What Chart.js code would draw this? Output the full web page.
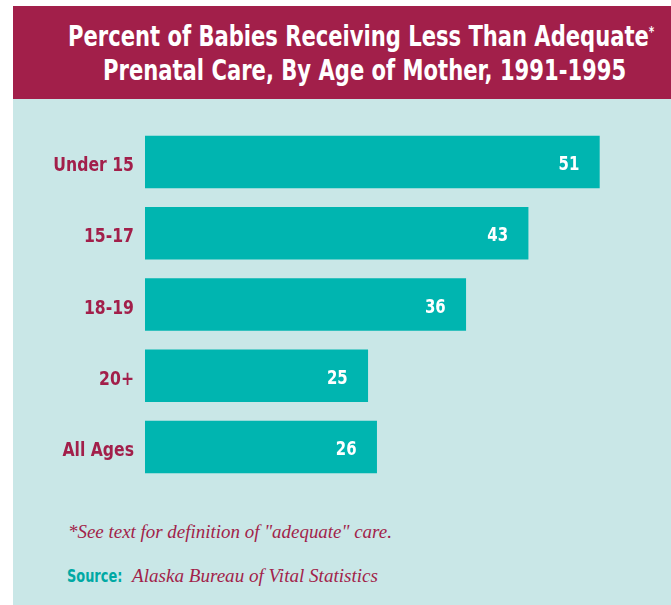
<!DOCTYPE html>
<html>
<head>
<meta charset="utf-8">
<script src="https://cdn.jsdelivr.net/npm/chart.js@4/dist/chart.umd.min.js"></script>
<style>
  html, body { margin: 0; padding: 0; background: #fff; }
  #page { position: relative; width: 671px; height: 605px; overflow: hidden; }
  #header {
    position: absolute; left: 13px; top: 6px; width: 658px; height: 93px;
    background: #a21f4a;
  }
  #panel {
    position: absolute; left: 13px; top: 99px; width: 658px; height: 506px;
    background: #c9e7e7;
  }
  .cond { font-family: "Liberation Sans Narrow", "DejaVu Sans Condensed", sans-serif; font-weight: bold; }
  .fit { position: absolute; white-space: nowrap; line-height: 1; transform-origin: 0 0; }
  .title { color: #fff; font-size: 28px; }
  .title sup { font-size: 14px; vertical-align: 10px; }
  .serif { color: #a21f4a; font-family: "Liberation Serif", "DejaVu Serif", serif; font-style: italic; font-size: 18px; }
  .src { color: #00a9a4; font-size: 18px; }
  #chartWrap { position: absolute; left: 13px; top: 99px; width: 658px; height: 400px; }
</style>
</head>
<body>
<div id="page">
  <div id="header"></div>
  <div id="panel"></div>
  <div id="chartWrap"><canvas id="chart" width="658" height="400"></canvas></div>

  <div class="fit title cond" data-w="586" style="left:68px; top:23px;">Percent of Babies Receiving Less Than Adequate<sup>*</sup></div>
  <div class="fit title cond" data-w="523" style="left:103px; top:57px;">Prenatal Care, By Age of Mother, 1991-1995</div>

  <div class="fit serif" data-w="324" style="left:68px; top:523px;">*See text for definition of "adequate" care.</div>
  <div class="fit src cond" data-w="55" style="left:67px; top:567px;">Source:</div>
  <div class="fit serif" data-w="246" style="left:132px; top:567px;">Alaska Bureau of Vital Statistics</div>
</div>
<script>
"use strict";
const ageGroups = ["Under 15", "15-17", "18-19", "20+", "All Ages"];
const percentLessThanAdequate = [51, 43, 36, 25, 26];

const MAROON = "#a21f4a";
const TEAL = "#00b5b0";
const CONDENSED = '"Liberation Sans Narrow", "DejaVu Sans Condensed", sans-serif';

// squeeze the html text to the widths of the original lettering
document.querySelectorAll(".fit").forEach((el) => {
  const w = el.offsetWidth;
  el.style.transform = `scaleX(${parseFloat(el.dataset.w) / w})`;
});

function squeezedText(ctx, text, x, y, sx) {
  ctx.save();
  ctx.translate(x, y);
  ctx.scale(sx, 1);
  ctx.fillText(text, 0, 0);
  ctx.restore();
}

// category names beside the bars and white numbers inside the bar ends
const barText = {
  id: "barText",
  afterDatasetsDraw(chart) {
    const ctx = chart.ctx;
    const yScale = chart.scales.y;
    const meta = chart.getDatasetMeta(0);
    ctx.save();
    ctx.textAlign = "right";
    ctx.textBaseline = "alphabetic";
    ctx.font = "bold 20px " + CONDENSED;

    ctx.fillStyle = MAROON;
    yScale.ticks.forEach((tick, i) => {
      squeezedText(ctx, yScale.getLabelForValue(tick.value), yScale.right - 11, yScale.getPixelForTick(i) + 9, 0.87);
    });

    ctx.fillStyle = "#fff";
    meta.data.forEach((bar, i) => {
      squeezedText(ctx, String(chart.data.datasets[0].data[i]), bar.x - 20, bar.y + 8, 0.83);
    });
    ctx.restore();
  }
};

new Chart(document.getElementById("chart"), {
  type: "bar",
  data: {
    labels: ageGroups,
    datasets: [{
      data: percentLessThanAdequate,
      backgroundColor: TEAL,
      borderWidth: 0,
      barThickness: 52
    }]
  },
  options: {
    indexAxis: "y",
    responsive: false,
    animation: false,
    layout: { padding: { top: 27.4, bottom: 16.35, right: 36, left: 0 } },
    plugins: { legend: { display: false }, tooltip: { enabled: false } },
    scales: {
      x: { display: false, min: 0, max: 55 },
      y: {
        grid: { display: false },
        border: { display: false },
        ticks: { display: false },
        afterFit(scale) { scale.width = 132; }
      }
    }
  },
  plugins: [barText]
});
</script>
</body>
</html>
